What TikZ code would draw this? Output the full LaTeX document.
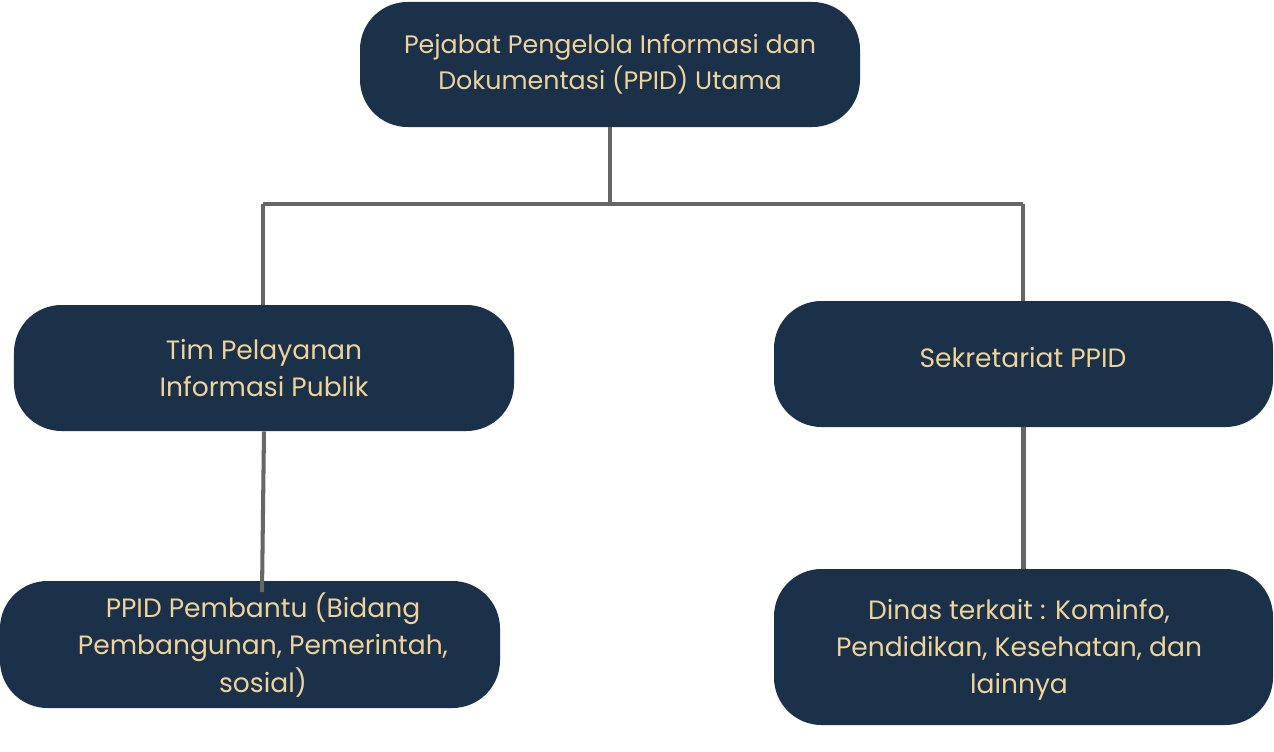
\documentclass[tikz,border=0pt]{standalone}
\usepackage{fontspec}
\setmainfont{Poppins}
\usepackage{xcolor}
\definecolor{ppidNavy}{HTML}{1B3049}
\definecolor{ppidGold}{HTML}{EED39A}
\definecolor{ppidGray}{HTML}{666666}
\usetikzlibrary{positioning}
\tikzset{
  every picture/.append style={font=\fontsize{15.1}{21.2}\selectfont},
  orgbox/.style={rectangle,rounded corners=0.95cm,fill=ppidNavy,text=ppidGold,align=center,minimum width=10cm,minimum height=2.52cm,inner sep=0pt},
  orgtext/.style={text=ppidGold,align=center,inner sep=0pt},
  conn/.style={draw=ppidGray,line width=2.3pt},
}
\begin{document}
\begin{tikzpicture}
  \useasboundingbox (0,0) rectangle (25.48,-15.04);
  \node[orgbox, minimum height=2.5cm, font=\fontsize{14.4}{20.5}\selectfont] (utama) at (12.2,-1.29) {Pejabat Pengelola Informasi dan\\Dokumentasi (PPID) Utama};
  \node[orgbox] (tim) at (5.28,-7.36) {Tim Pelayanan\\Informasi Publik};
  \node[orgbox, minimum width=9.98cm] (sekre) at (20.47,-7.28) {};
  \node[orgtext] (sekreText) at (20.46,-7.16) {Sekretariat PPID};
  \node[orgbox, minimum height=2.54cm] (pembantu) at (5.0,-12.89) {};
  \node[orgtext] (pembantuText) at (5.26,-12.9) {PPID Pembantu (Bidang\\Pembangunan, Pemerintah,\\sosial)};
  \node[orgbox, minimum width=9.98cm, minimum height=3.12cm] (dinas) at (20.47,-12.94) {};
  \node[orgtext] (dinasText) at (20.38,-13.0) {Dinas terkait : Kominfo,\\Pendidikan, Kesehatan, dan\\lainnya};
  % connectors
  \coordinate (busL) at (5.26,-4.08);
  \coordinate (busR) at (20.46,-4.08);
  \coordinate (pembantuTop) at (5.24,-11.84);
  \draw[conn] (utama.south) -- (utama.south |- busL);
  \draw[conn] (busL) -- (busR);
  \draw[conn] (busL) -- (busL |- tim.north);
  \draw[conn] (busR) -- (busR |- sekre.north);
  \draw[conn] (tim.south) -- (pembantuTop);
  \draw[conn] (sekre.south) -- (sekre.south |- dinas.north);
\end{tikzpicture}
\end{document}
